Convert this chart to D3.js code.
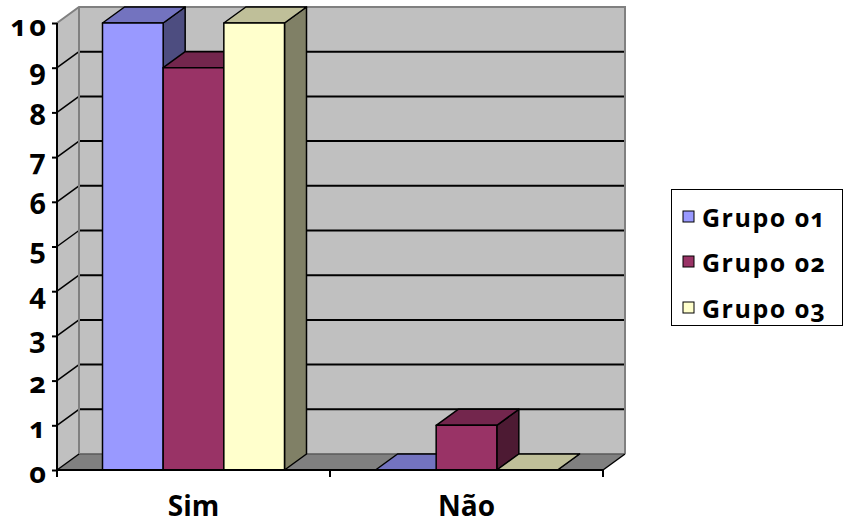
<!DOCTYPE html>
<html>
<head>
<meta charset="utf-8">
<script src="https://cdn.jsdelivr.net/npm/d3@7"></script>
<style>
  html, body { margin: 0; padding: 0; background: #fff; }
  svg { display: block; }
  .lbl { font-family: "Open Sans", "DejaVu Sans", sans-serif; font-weight: 700; font-variant-numeric: oldstyle-nums; font-feature-settings: "onum" 1; fill: #000; }
</style>
</head>
<body>
<svg id="chart" width="844" height="524"></svg>
<script>
// Categories, series and tick labels
const categories = ["Sim", "Não"];
const seriesNames = ["Grupo 01", "Grupo 02", "Grupo 03"];
const grupo01 = [10, 0];
const grupo02 = [9, 1];
const grupo03 = [10, 0];
const yTickValues = [0, 1, 2, 3, 4, 5, 6, 7, 8, 9, 10];

const seriesValues = [grupo01, grupo02, grupo03];
const faceColors = ["#9999FF", "#993366", "#FFFFCC"];

const svg = d3.select("#chart");

// Plot frame (front plane) and oblique depth offset
const plotLeft = 57, plotRight = 603, plotBottom = 470, plotTop = 23;
const DX = 22, DY = 16;

const x0 = d3.scaleBand().domain(categories).range([plotLeft, plotRight]).paddingInner(0).paddingOuter(0);
const x1 = d3.scaleBand().domain(seriesNames).range([0, x0.bandwidth()]).paddingInner(0).paddingOuter(0.75);
const y = d3.scaleLinear().domain([0, 10]).range([plotBottom, plotTop]);

const shade = (c, k) => { const r = d3.rgb(c); return d3.rgb(r.r * k, r.g * k, r.b * k).formatHex(); };
const poly = pts => "M" + pts.map(p => p.join(",")).join("L") + "Z";

// Walls and floor
const wallFill = "#C0C0C0";
svg.append("path")
  .attr("d", poly([[plotLeft, y(0)], [plotLeft, y(10)], [plotLeft + DX, y(10) - DY], [plotLeft + DX, y(0) - DY]]))
  .attr("fill", wallFill);
svg.append("rect")
  .attr("x", plotLeft + DX).attr("y", y(10) - DY)
  .attr("width", plotRight - plotLeft).attr("height", y(0) - y(10))
  .attr("fill", wallFill);
svg.append("path")
  .attr("d", poly([[plotLeft, y(0)], [plotLeft + DX, y(0) - DY], [plotRight + DX, y(0) - DY], [plotRight, y(0)]]))
  .attr("fill", "#808080");
svg.append("line")
  .attr("x1", plotLeft + DX).attr("x2", plotRight + DX)
  .attr("y1", y(0) - DY).attr("y2", y(0) - DY)
  .attr("stroke", "#5a5a5a").attr("stroke-width", 1.5);

// Gridlines on back wall and side wall
const grid = svg.append("g");
yTickValues.filter(v => v > 0 && v < 10).forEach(v => {
  grid.append("line")
    .attr("x1", plotLeft + DX).attr("x2", plotRight + DX)
    .attr("y1", y(v) - DY).attr("y2", y(v) - DY)
    .attr("stroke", "#000").attr("stroke-width", 2);
  grid.append("line")
    .attr("x1", plotLeft).attr("x2", plotLeft + DX)
    .attr("y1", y(v)).attr("y2", y(v) - DY)
    .attr("stroke", "#000").attr("stroke-width", 1.5);
});

// Wall borders
svg.append("path")
  .attr("d", `M${plotLeft},${y(10)}L${plotLeft + DX},${y(10) - DY}L${plotRight + DX},${y(10) - DY}L${plotRight + DX},${y(0) - DY}`)
  .attr("fill", "none").attr("stroke", "#808080").attr("stroke-width", 2);
svg.append("line")
  .attr("x1", plotLeft + DX).attr("x2", plotLeft + DX)
  .attr("y1", y(10) - DY).attr("y2", y(0) - DY)
  .attr("stroke", "#808080").attr("stroke-width", 2);
svg.append("line")
  .attr("x1", plotRight).attr("x2", plotRight + DX)
  .attr("y1", y(0)).attr("y2", y(0) - DY)
  .attr("stroke", "#000").attr("stroke-width", 1.5);
svg.append("line")
  .attr("x1", plotLeft).attr("x2", plotLeft + DX)
  .attr("y1", y(0)).attr("y2", y(0) - DY)
  .attr("stroke", "#000").attr("stroke-width", 1.5);

// 3D columns
const bars = svg.append("g");
categories.forEach((cat, ci) => {
  seriesNames.forEach((s, si) => {
    const v = seriesValues[si][ci];
    const xa = x0(cat) + x1(s), xb = xa + x1.bandwidth();
    const yt = y(v), yb = y(0);
    const col = faceColors[si];
    const g = bars.append("g").attr("stroke", "#000").attr("stroke-width", 1.5).attr("stroke-linejoin", "round");
    g.append("path").attr("d", poly([[xb, yt], [xb + DX, yt - DY], [xb + DX, yb - DY], [xb, yb]]))
      .attr("fill", shade(col, 0.5));
    g.append("path").attr("d", poly([[xa, yt], [xa + DX, yt - DY], [xb + DX, yt - DY], [xb, yt]]))
      .attr("fill", shade(col, 0.75));
    if (v > 0) {
      g.append("rect").attr("x", xa).attr("y", yt).attr("width", xb - xa).attr("height", yb - yt)
        .attr("fill", col);
    }
  });
});

// Y axis
const yAxis = svg.append("g")
  .attr("transform", `translate(${plotLeft},0)`)
  .call(d3.axisLeft(y).tickValues(yTickValues).tickFormat(d3.format("d")).tickSize(5).tickPadding(4));
yAxis.attr("font-family", null).attr("font-size", null);
yAxis.select(".domain").attr("stroke", "#000").attr("stroke-width", 2).attr("d", `M0,${plotTop}V${plotBottom}`);
yAxis.selectAll(".tick line").attr("stroke", "#000").attr("stroke-width", 2);
yAxis.selectAll(".tick text")
  .attr("class", "lbl").attr("font-size", 29).attr("letter-spacing", 2).attr("dy", null).attr("y", 12);

// X axis
const xAxis = svg.append("g")
  .attr("transform", `translate(0,${plotBottom})`)
  .call(d3.axisBottom(x0).tickSize(0).tickPadding(0));
xAxis.attr("font-family", null).attr("font-size", null);
xAxis.select(".domain").attr("stroke", "#000").attr("stroke-width", 2).attr("d", `M${plotLeft},0H${plotRight}`);
xAxis.selectAll(".tick text")
  .attr("class", "lbl").attr("font-size", 28).attr("dy", null).attr("y", 46);
const boundaries = [plotLeft].concat(categories.map(c => x0(c) + x0.bandwidth()));
xAxis.selectAll(".sep").data(boundaries).enter().append("line")
  .attr("x1", d => d).attr("x2", d => d).attr("y1", 0).attr("y2", 7)
  .attr("stroke", "#000").attr("stroke-width", 2);

// Legend
const legend = svg.append("g").attr("transform", "translate(671,189)");
legend.append("rect").attr("x", 0.5).attr("y", 0.5).attr("width", 171).attr("height", 136)
  .attr("fill", "#fff").attr("stroke", "#000").attr("stroke-width", 1);
const rowY = [28, 73, 119];
seriesNames.forEach((s, i) => {
  legend.append("rect").attr("x", 12).attr("y", rowY[i] - 6).attr("width", 11).attr("height", 11)
    .attr("fill", faceColors[i]).attr("stroke", "#000").attr("stroke-width", 1);
  legend.append("text").attr("class", "lbl").attr("x", 31).attr("y", rowY[i] + 10)
    .attr("font-size", 25).attr("letter-spacing", 1.5).text(s);
});
</script>
</body>
</html>
